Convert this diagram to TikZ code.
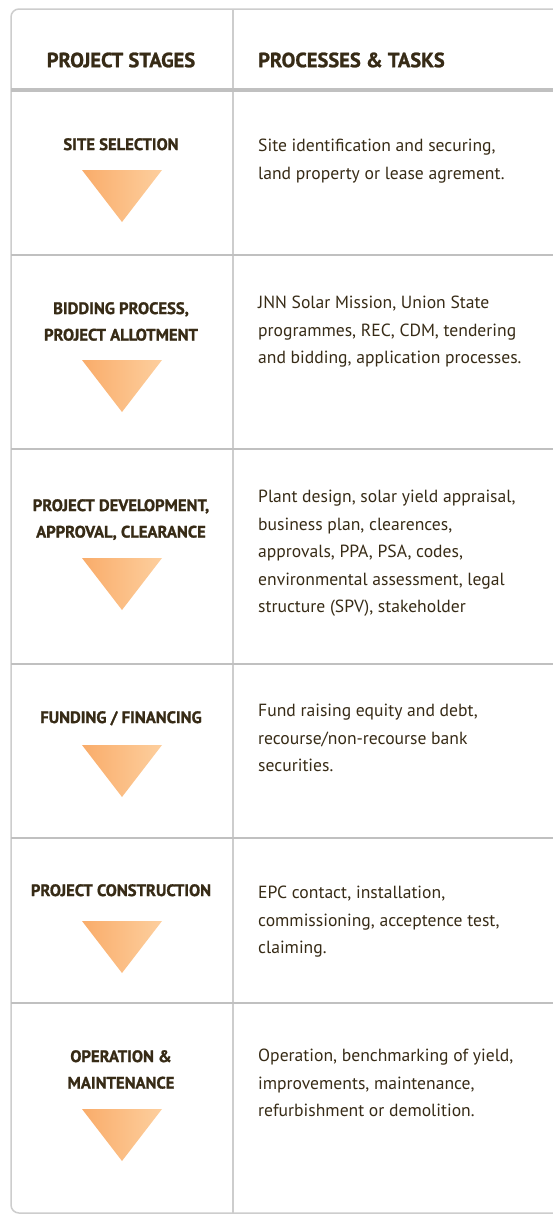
\documentclass[tikz,border=0pt]{standalone}
\usepackage{fontspec}
\setmainfont{PT Sans}[BoldFeatures={FakeBold=1.2}]
\usetikzlibrary{positioning}
\definecolor{inkbrown}{RGB}{55,43,22}
\definecolor{framegray}{RGB}{205,205,205}
\definecolor{rulegray}{RGB}{192,192,192}
\definecolor{arrowdark}{RGB}{249,172,106}
\definecolor{arrowlight}{RGB}{253,207,158}

\begin{document}
\begin{tikzpicture}[%
        x=1pt,y=-1pt,
        head/.style={%
          font=\bfseries\fontsize{20.5}{20}\selectfont,
          text=inkbrown,
          inner sep=0pt
        },
        stage/.style={%
          font=\bfseries\fontsize{16.6}{26.5}\selectfont,
          text=inkbrown,
          align=center,
          anchor=north,
          inner sep=0pt
        },
        task/.style={%
          font=\fontsize{17.6}{27.5}\selectfont,
          text=inkbrown,
          align=left,
          anchor=north west,
          inner sep=0pt
        }
      ]
      \useasboundingbox (0,0) rectangle (553,1218);

      % frame and rules
      \draw[framegray,line width=1.5pt,rounded corners=8pt] (553,9) -- (11,9) -- (11,1213) -- (553,1213);
      \draw[framegray,line width=1.2pt] (233,9) -- (233,1213);
      \draw[rulegray,line width=4pt] (11,90) -- (553,90);
      \foreach \ry in {255,449,664,838,1003}
        \draw[rulegray,line width=2pt] (11,\ry) -- (553,\ry);

      % arrows
      \foreach \ty in {170,360,558,745,921,1109}
        \shade[left color=arrowdark,right color=arrowlight] (82,\ty) -- (162,\ty) -- (122,\ty+52) -- cycle;

      \node[head] (h1) at (121,60) {PROJECT STAGES};
      \node[head,anchor=west] (h2) at (258,60) {PROCESSES \& TASKS};

      \node[stage] (s1) at (121,138) {SITE SELECTION};
      \node[stage] (s2) at (121,302) {BIDDING PROCESS,\\PROJECT ALLOTMENT};
      \node[stage] (s3) at (121,499) {PROJECT DEVELOPMENT,\\APPROVAL, CLEARANCE};
      \node[stage] (s4) at (121,711) {FUNDING / FINANCING};
      \node[stage] (s5) at (121,884) {PROJECT CONSTRUCTION};
      \node[stage] (s6) at (121,1050) {OPERATION \&\\MAINTENANCE};

      \node[task] (p1) at (258,139) {Site identification and securing,\\land property or lease agrement.};
      \node[task] (p2) at (258,296) {JNN Solar Mission, Union State\\programmes, REC, CDM, tendering\\and bidding, application processes.};
      \node[task] (p3) at (258,490) {Plant design, solar yield appraisal,\\business plan, clearences,\\approvals, PPA, PSA, codes,\\environmental assessment, legal\\structure (SPV), stakeholder};
      \node[task] (p4) at (258,704) {Fund raising equity and debt,\\recourse/non-recourse bank\\securities.};
      \node[task] (p5) at (258,886) {EPC contact, installation,\\commissioning, acceptence test,\\claiming.};
      \node[task] (p6) at (258,1049) {Operation, benchmarking of yield,\\improvements, maintenance,\\refurbishment or demolition.};
\end{tikzpicture}
\end{document}
